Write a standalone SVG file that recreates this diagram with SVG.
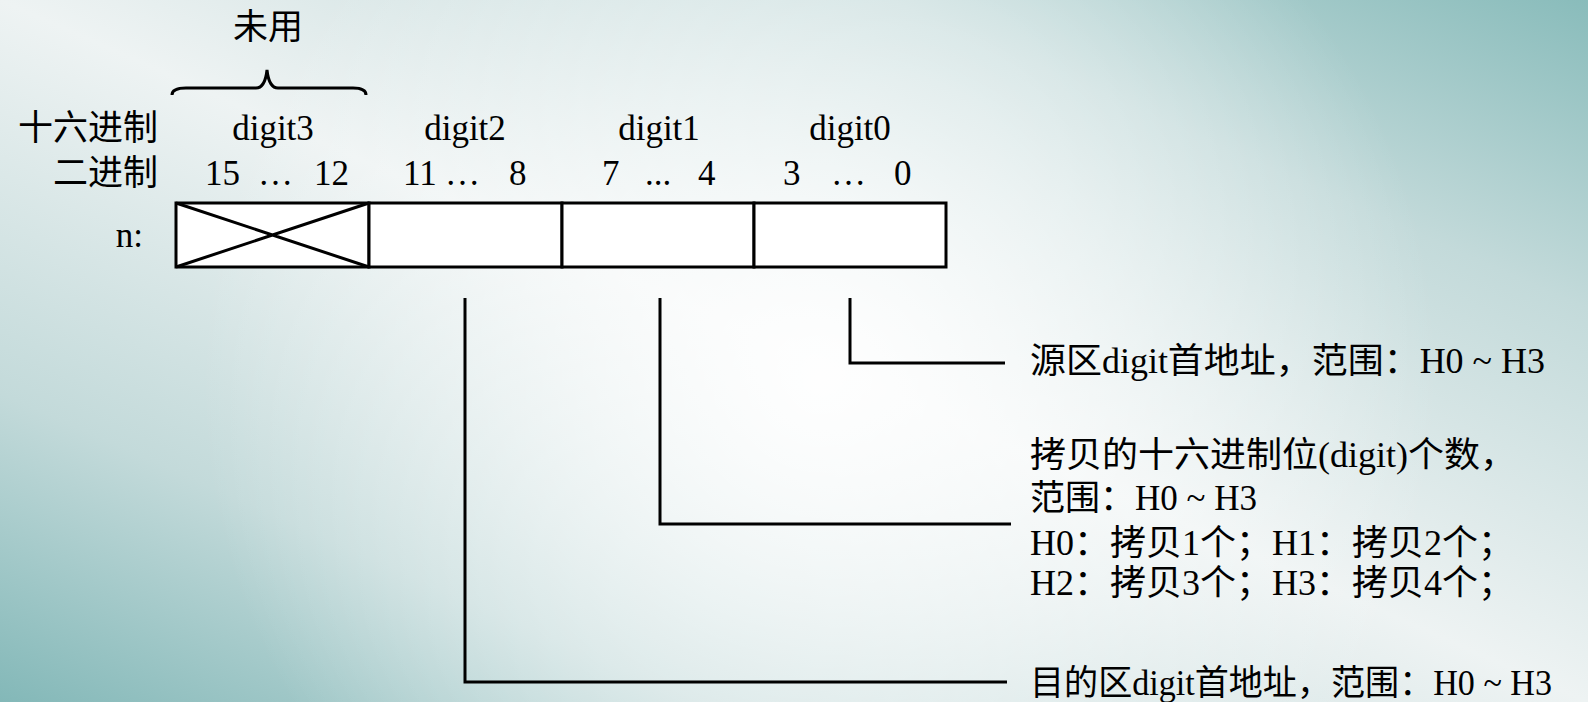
<svg xmlns="http://www.w3.org/2000/svg" width="1588" height="702" viewBox="0 0 1588 702">
<defs>
<linearGradient id="bg" x1="1" y1="0" x2="0" y2="1">
<stop offset="0" stop-color="#89bcbb"/>
<stop offset="0.22" stop-color="#c3dada"/>
<stop offset="0.5" stop-color="#eef3f3"/>
<stop offset="0.78" stop-color="#c3dada"/>
<stop offset="1" stop-color="#83b8b8"/>
</linearGradient>
<radialGradient id="glow" gradientUnits="userSpaceOnUse" cx="820" cy="380" r="620">
<stop offset="0" stop-color="#ffffff" stop-opacity="0.95"/>
<stop offset="0.5" stop-color="#ffffff" stop-opacity="0.5"/>
<stop offset="1" stop-color="#ffffff" stop-opacity="0"/>
</radialGradient>
<style>
text{font-family:"Liberation Serif","Noto Sans CJK SC",serif;font-size:35px;fill:#000;}
.mid{text-anchor:middle;}
.end{text-anchor:end;}
.ln{fill:none;stroke:#000;stroke-width:3;}
.cell{fill:#fff;stroke:#000;stroke-width:3;}
</style>
</defs>
<rect x="0" y="0" width="1588" height="702" fill="url(#bg)"/>
<rect x="0" y="0" width="1588" height="702" fill="url(#glow)"/>

<g id="labels-left">
<text class="end" x="158" y="140">十六进制</text>
<text class="end" x="158" y="185">二进制</text>
<text class="end" x="143" y="247">n:</text>
</g>

<g id="unused">
<text class="mid" x="268" y="39">未用</text>
<path class="ln" stroke-width="2.5" d="M172,95 Q172,88 186,88 L256,88 Q265,88 267,70 Q269,88 278,88 L353,88 Q366,88 366,95"/>
</g>

<g id="digit3">
<rect class="cell" x="176" y="203" width="193" height="64"/>
<path class="ln" stroke-width="2.5" d="M176,203 L369,267 M176,267 L369,203"/>
<text class="mid" x="273" y="140">digit3</text>
<text y="185"><tspan x="205">15</tspan><tspan x="258">…</tspan><tspan x="314">12</tspan></text>
</g>

<g id="digit2">
<rect class="cell" x="369" y="203" width="193" height="64"/>
<text class="mid" x="465" y="140">digit2</text>
<text y="185"><tspan x="403">11</tspan><tspan x="445">…</tspan><tspan x="509">8</tspan></text>
</g>

<g id="digit1">
<rect class="cell" x="562" y="203" width="192" height="64"/>
<text class="mid" x="659" y="140">digit1</text>
<text y="185"><tspan x="602">7</tspan><tspan x="645">...</tspan><tspan x="698">4</tspan></text>
</g>

<g id="digit0">
<rect class="cell" x="754" y="203" width="192" height="64"/>
<text class="mid" x="850" y="140">digit0</text>
<text y="185"><tspan x="783">3</tspan><tspan x="831">…</tspan><tspan x="894">0</tspan></text>
</g>

<g id="connectors">
<path class="ln" d="M850,298 V363 H1005"/>
<path class="ln" d="M660,298 V524 H1011"/>
<path class="ln" d="M465,298 V682 H1007"/>
</g>

<g id="note-source">
<text x="1030" y="373" textLength="515" lengthAdjust="spacingAndGlyphs">源区digit首地址，范围：H0 ~ H3</text>
</g>

<g id="note-count">
<text x="1030" y="467" textLength="486" lengthAdjust="spacingAndGlyphs">拷贝的十六进制位(digit)个数，</text>
<text x="1030" y="510">范围：H0 ~ H3</text>
<text x="1030" y="555" textLength="484" lengthAdjust="spacingAndGlyphs">H0：拷贝1个；H1：拷贝2个；</text>
<text x="1030" y="595" textLength="484" lengthAdjust="spacingAndGlyphs">H2：拷贝3个；H3：拷贝4个；</text>
</g>

<g id="note-dest">
<text x="1030" y="695" textLength="522" lengthAdjust="spacingAndGlyphs">目的区digit首地址，范围：H0 ~ H3</text>
</g>
</svg>
